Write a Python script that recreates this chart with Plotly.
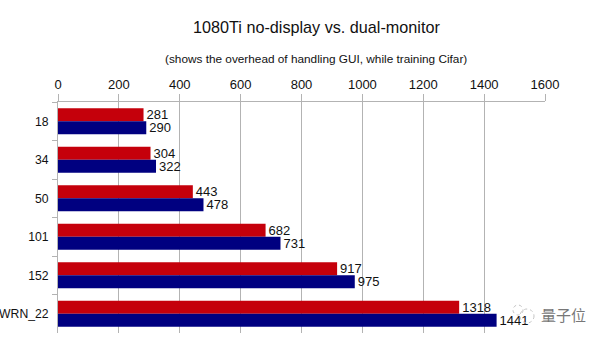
import plotly.graph_objects as go

categories = ["18", "34", "50", "101", "152", "WRN_22"]
no_display = [281, 304, 443, 682, 917, 1318]
dual_monitor = [290, 322, 478, 731, 975, 1441]
x_ticks = [0, 200, 400, 600, 800, 1000, 1200, 1400, 1600]

FONT = "Liberation Sans"
FW, FH = 605, 340
L, R, T, B = 58, 60, 102, 7
PW, PH = FW - L - R, FH - T - B

fig = go.Figure()
for name, vals, col in [("no-display", no_display, "#c5000b"), ("dual-monitor", dual_monitor, "#000080")]:
    fig.add_bar(y=categories, x=vals, name=name, orientation="h", marker=dict(color=col, line_width=0),
                text=[str(v) for v in vals], textposition="outside", cliponaxis=False, constraintext="none",
                textfont=dict(family=FONT, size=13, color="#111111"))


def px(v):
    return (v - L) / PW


def py(v):
    return 1 - (v - T) / PH


def note(text, x, y, size, color="#111111", family=FONT):
    return go.layout.Annotation(text=text, xref="paper", yref="paper", x=px(x), y=py(y),
                                xanchor="center", yanchor="middle", showarrow=False,
                                font=dict(size=size, family=family, color=color))


def ring(cx, cy, r):
    return dict(type="circle", xref="paper", yref="paper", x0=px(cx - r), x1=px(cx + r), y0=py(cy + r), y1=py(cy - r),
                line=dict(color="#c4c4c4", width=1, dash="dot"), layer="above")


fig.update_layout(
    width=FW, height=FH, margin=dict(l=L, r=R, t=T, b=B, autoexpand=False),
    barmode="group", bargap=0.32, bargroupgap=0, showlegend=False,
    paper_bgcolor="white", plot_bgcolor="white",
    font=dict(family=FONT, size=13, color="#111111"),
    xaxis=dict(side="top", range=[0, 1600], tickvals=x_ticks, showgrid=True, gridcolor="#b3b3b3", gridwidth=1,
               ticks="outside", ticklen=7, tickcolor="#b3b3b3", showline=True, linecolor="#b3b3b3", zeroline=False,
               automargin=False, tickfont=dict(size=13)),
    yaxis=dict(type="category", categoryorder="array", categoryarray=categories, autorange="reversed",
               tickson="boundaries", ticks="outside", ticklen=5, tickcolor="#b3b3b3", showline=True,
               linecolor="#b3b3b3", showgrid=False, automargin=False, tickfont=dict(size=12.2), ticklabelstandoff=6),
    annotations=[
        note("1080Ti no-display vs. dual-monitor", 316, 27, 16.2),
        note("(shows the overhead of handling GUI, while training Cifar)", 316, 59, 11.8),
        note("量子位", 563, 314, 15, "#777777", "Noto Sans CJK SC"),
    ],
    shapes=[ring(518, 310, 5), ring(527, 316, 7)],
)
fig.write_html("out.html", config={"displayModeBar": False},
               post_script="document.body.style.margin='0';document.documentElement.style.overflow='hidden';")
